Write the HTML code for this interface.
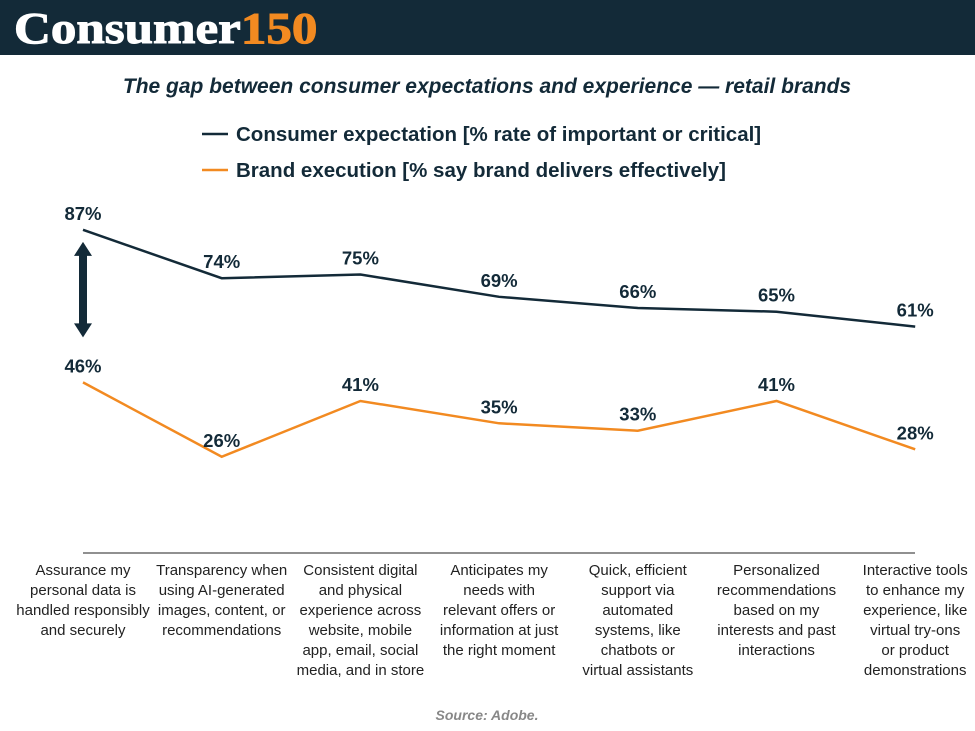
<!DOCTYPE html>
<html><head><meta charset="utf-8"><style>
body{margin:0;width:975px;height:731px;background:#fff;overflow:hidden;font-family:"Liberation Sans","DejaVu Sans",sans-serif}
#hdr{position:absolute;left:0;top:0;width:975px;height:55px;background:#132a38}
#logo{position:absolute;left:14px;top:3px;font-family:"Liberation Serif",serif;font-weight:bold;font-size:44px;color:#fff;letter-spacing:0px;transform:scaleX(1.16);transform-origin:left top;-webkit-text-stroke:1px currentColor}
#logo span{color:#f28a21}
svg{position:absolute;left:0;top:0}
</style></head><body>
<div id="hdr"><div id="logo">Consumer<span>150</span></div></div>
<svg id="chart" width="975" height="731"></svg>
<script>
const categories=[["Assurance my","personal data is","handled responsibly","and securely"],["Transparency when","using AI-generated","images, content, or","recommendations"],["Consistent digital","and physical","experience across","website, mobile","app, email, social","media, and in store"],["Anticipates my","needs with","relevant offers or","information at just","the right moment"],["Quick, efficient","support via","automated","systems, like","chatbots or","virtual assistants"],["Personalized","recommendations","based on my","interests and past","interactions"],["Interactive tools","to enhance my","experience, like","virtual try-ons","or product","demonstrations"]];
const expectation=[87,74,75,69,66,65,61];
const execution=[46,26,41,35,33,41,28];
const NS="http://www.w3.org/2000/svg";
const svg=document.getElementById('chart');
const x=i=>83+i*138.7;
const y=v=>553.5-v*3.72;
function mk(t,a,txt){const e=document.createElementNS(NS,t);for(const k in a)e.setAttribute(k,a[k]);if(txt!=null)e.textContent=txt;svg.appendChild(e);return e;}
let e;
e=mk('text',{x:487,y:93,'text-anchor':'middle','font-size':21,'font-weight':'bold','font-style':'italic',fill:'#132a38'},'The gap between consumer expectations and experience — retail brands');


const legend=[['Consumer expectation [% rate of important or critical]','#132a38',134],['Brand execution [% say brand delivers effectively]','#f28a21',170]];
legend.forEach(l=>{
 e=mk('line',{x1:202,x2:228,y1:l[2],y2:l[2],stroke:l[1],'stroke-width':2.5});
 
 
 e=mk('text',{x:236,y:l[2]+7,'font-size':20.5,'font-weight':'bold',fill:'#132a38'},l[0]);
 
 
});
e=mk('line',{x1:83,x2:915,y1:553,y2:553,stroke:'#222','stroke-width':1});


[[expectation,'#132a38','expectation-line'],[execution,'#f28a21','execution-line']].forEach(s=>{
 e=mk('polyline',{points:s[0].map((v,i)=>x(i)+','+y(v)).join(' '),fill:'none',stroke:s[1],'stroke-width':2.5});
 
 
 s[0].forEach((v,i)=>{
  e=mk('text',{x:x(i),y:y(v)-10,'text-anchor':'middle','font-size':18.5,'font-weight':'bold',fill:'#132a38'},v+'%');
  
  
 });
});
const ay1=y(expectation[0])+12,ay2=y(execution[0])-45;
e=mk('path',{d:`M83 ${ay1} L74 ${ay1+14} L79 ${ay1+14} L79 ${ay2-14} L74 ${ay2-14} L83 ${ay2} L92 ${ay2-14} L87 ${ay2-14} L87 ${ay1+14} L92 ${ay1+14} Z`,fill:'#132a38'});


categories.forEach((c,i)=>{
 c.forEach((ln,j)=>{
  e=mk('text',{x:x(i),y:575+j*20,'text-anchor':'middle','font-size':15,fill:'#222'},ln);
  
  
 });
});
e=mk('text',{x:487,y:720,'text-anchor':'middle','font-size':14,'font-weight':'bold','font-style':'italic',fill:'#888'},'Source: Adobe.');


</script>
</body></html>
